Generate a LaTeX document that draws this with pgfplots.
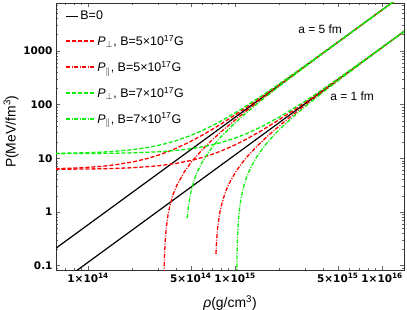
\documentclass[border=0pt]{standalone}
\usepackage{fontspec}
\setmainfont{Liberation Sans}
\newfontfamily\tickfont{DejaVu Sans}
\usepackage{pgfplots}
\pgfplotsset{compat=1.18}
\definecolor{mred}{rgb}{1,0,0}
\definecolor{mgreen}{rgb}{0.05,0.95,0.05}
\pgfplotsset{
 longleg/.style={legend image code/.code={\draw[##1, line width=1.7bp] (0bp,0bp) -- (29bp,0bp);}},
 shortleg/.style={legend image code/.code={\draw[##1, line width=1.5bp] (0bp,0bp) -- (12bp,0bp);}},
}
\begin{document}
\begin{tikzpicture}
\begin{axis}[
 scale only axis, width=348bp, height=267bp,
 xmode=log, ymode=log,
 xmin=6.05e13, xmax=1.41e16, ymin=0.0832, ymax=7800,
 xtick={1e14,5e14,1e15,5e15,1e16},
 xticklabels={1\texttimes10\textsuperscript{14},5\texttimes10\textsuperscript{14},1\texttimes10\textsuperscript{15},5\texttimes10\textsuperscript{15},1\texttimes10\textsuperscript{16}},
 minor xtick={7e13,8e13,9e13,2e14,3e14,4e14,6e14,7e14,8e14,9e14,2e15,3e15,4e15,6e15,7e15,8e15,9e15},
 ytick={0.1,1,10,100,1000},
 yticklabels={0.1,1,10,100,1000},
 minor ytick={0.09,0.2,0.3,0.4,0.5,0.6,0.7,0.8,0.9,2,3,4,5,6,7,8,9,20,30,40,50,60,70,80,90,200,300,400,500,600,700,800,900,2000,3000,4000,5000,6000,7000},
 tick align=inside,
 major tick length=4bp, minor tick length=2bp,
 axis line style={black!80, line width=0.7bp},
 tick style={black!60, line width=0.5bp},
 ticklabel style={font=\tickfont\bfseries\fontsize{10.5}{12}\selectfont},
 xlabel={\textit{ρ}(g/cm\textsuperscript{3})},
 ylabel={P(MeV/fm\textsuperscript{3})},
 label style={font=\fontsize{14}{16}\selectfont},
 xlabel style={at={(axis description cs:0.5,-0.124)}, anchor=center},
 ylabel style={at={(axis description cs:-0.129,0.518)}, anchor=center},
 legend style={at={(rel axis cs:0,1)}, anchor=north west, xshift=9bp, yshift=-6.5bp,
   draw=none, fill=none, inner sep=0pt, row sep=11bp,
   nodes={inner sep=1.5bp},
   font=\fontsize{12.5}{14}\selectfont},
 legend cell align=left,
 longleg,
 every axis plot/.append style={line width=1.3bp},
]
\addplot[black, line width=1.2bp, shortleg] coordinates {(6e13,0.2088)(1.5e16,13050)};
\addlegendentry{\hspace*{-17bp}B=0}
\addplot[black, line width=1.2bp, forget plot] coordinates {(6e13,0.04176)(1.5e16,2610)};

\addplot[mred, dash pattern=on 4bp off 2bp] coordinates {(6e13,6.417)(8e13,6.579)(1e14,6.788)(1.25e14,7.114)(1.5e14,7.513)(2e14,8.528)(2.5e14,9.833)(3e14,11.428)(3.5e14,13.313)(4e14,15.488)(5e14,20.708)(6e14,27.088)(7e14,34.628)(8e14,43.328)(1e15,64.208)(1.2e15,89.728)(1.5e15,136.708)(2e15,238.208)(3e15,528.208)(5e15,1456.2)(1e16,5806.2)(1.41e16,11537)};
\addlegendentry{\textit{P}\textsubscript{$\perp$}, B=5\texttimes10\textsuperscript{17}G}
\addplot[mred, dash pattern=on 4bp off 2bp, forget plot] coordinates {(6e13,6.250)(1e14,6.324)(1.5e14,6.469)(2e14,6.672)(3e14,7.252)(4e14,8.064)(5e14,9.108)(6e14,10.384)(7e14,11.892)(8e14,13.632)(1e15,17.808)(1.2e15,22.912)(1.5e15,32.308)(2e15,52.608)(2.5e15,78.708)(3e15,110.608)(4e15,191.808)(6e15,423.808)(1e16,1166.2)(1.41e16,2312.3)};

\addplot[mred, dash pattern=on 4bp off 1.5bp on 1bp off 1.5bp] coordinates {(3.29e14,0.0698)(3.30e14,0.1082)(3.32e14,0.185)(3.35e14,0.301)(3.4e14,0.497)(3.5e14,0.897)(3.6e14,1.309)(3.8e14,2.167)(4e14,3.072)(4.5e14,5.537)(5e14,8.292)(6e14,14.672)(7e14,22.212)(8e14,30.912)(1e15,51.792)(1.2e15,77.312)(1.5e15,124.292)(2e15,225.792)(3e15,515.792)(5e15,1443.8)(1e16,5793.8)(1.41e16,11524.8)};
\addlegendentry{\textit{P}\textsubscript{$\parallel$}, B=5\texttimes10\textsuperscript{17}G}
\addplot[mred, dash pattern=on 4bp off 1.5bp on 1bp off 1.5bp, forget plot] coordinates {(7.412e14,0.165)(7.45e14,0.2303)(7.5e14,0.317)(7.6e14,0.492)(7.8e14,0.849)(8e14,1.216)(8.5e14,2.173)(9e14,3.188)(1e15,5.392)(1.1e15,7.828)(1.2e15,10.496)(1.4e15,16.528)(1.7e15,27.316)(2e15,40.192)(2.5e15,66.292)(3e15,98.192)(4e15,179.392)(6e15,411.392)(1e16,1153.8)(1.41e16,2299.9)};

\addplot[mgreen, dash pattern=on 4bp off 2bp] coordinates {(6e13,12.378)(8e13,12.540)(1e14,12.749)(1.25e14,13.075)(1.5e14,13.474)(2e14,14.489)(2.5e14,15.794)(3e14,17.389)(3.5e14,19.274)(4e14,21.449)(5e14,26.669)(6e14,33.049)(7e14,40.589)(8e14,49.289)(1e15,70.169)(1.2e15,95.689)(1.5e15,142.669)(2e15,244.169)(3e15,534.169)(5e15,1462.2)(1e16,5812.2)(1.41e16,11543)};
\addlegendentry{\textit{P}\textsubscript{$\perp$}, B=7\texttimes10\textsuperscript{17}G}
\addplot[mgreen, dash pattern=on 4bp off 2bp, forget plot] coordinates {(6e13,12.211)(1e14,12.285)(1.5e14,12.430)(2e14,12.633)(3e14,13.213)(4e14,14.025)(5e14,15.069)(6e14,16.345)(7e14,17.853)(8e14,19.593)(1e15,23.769)(1.2e15,28.873)(1.5e15,38.269)(2e15,58.569)(2.5e15,84.669)(3e15,116.569)(4e15,197.769)(6e15,429.769)(1e16,1172.2)(1.41e16,2318.2)};

\addplot[mgreen, dash pattern=on 4bp off 1.5bp on 1bp off 1.5bp] coordinates {(4.7232e14,0.770)(4.75e14,0.917)(4.8e14,1.194)(4.9e14,1.757)(5e14,2.331)(5.25e14,3.817)(5.5e14,5.376)(6e14,8.711)(7e14,16.251)(8e14,24.951)(1e15,45.831)(1.2e15,71.351)(1.5e15,118.331)(2e15,219.831)(3e15,509.831)(5e15,1437.8)(1e16,5787.8)(1.41e16,11518.8)};
\addlegendentry{\textit{P}\textsubscript{$\parallel$}, B=7\texttimes10\textsuperscript{17}G}
\addplot[mgreen, dash pattern=on 4bp off 1.5bp on 1bp off 1.5bp, forget plot] coordinates {(1.027e15,0.0659)(1.03e15,0.1374)(1.035e15,0.2572)(1.04e15,0.3776)(1.05e15,0.620)(1.075e15,1.2363)(1.1e15,1.867)(1.15e15,3.172)(1.2e15,4.535)(1.3e15,7.435)(1.4e15,10.567)(1.6e15,17.527)(1.8e15,25.415)(2e15,34.231)(2.5e15,60.331)(3e15,92.231)(4e15,173.431)(6e15,405.431)(1e16,1147.8)(1.41e16,2293.9)};

\node[font=\fontsize{12}{14}\selectfont] at (axis cs:3.79e15,2483) {a = 5 fm};
\node[font=\fontsize{12}{14}\selectfont] at (axis cs:6.25e15,142) {a = 1 fm};
\end{axis}
\pgfresetboundingbox
\path[use as bounding box] ([shift={(-56bp,-40bp)}]current axis.south west) rectangle ([shift={(3bp,3bp)}]current axis.north east);
\end{tikzpicture}
\end{document}
